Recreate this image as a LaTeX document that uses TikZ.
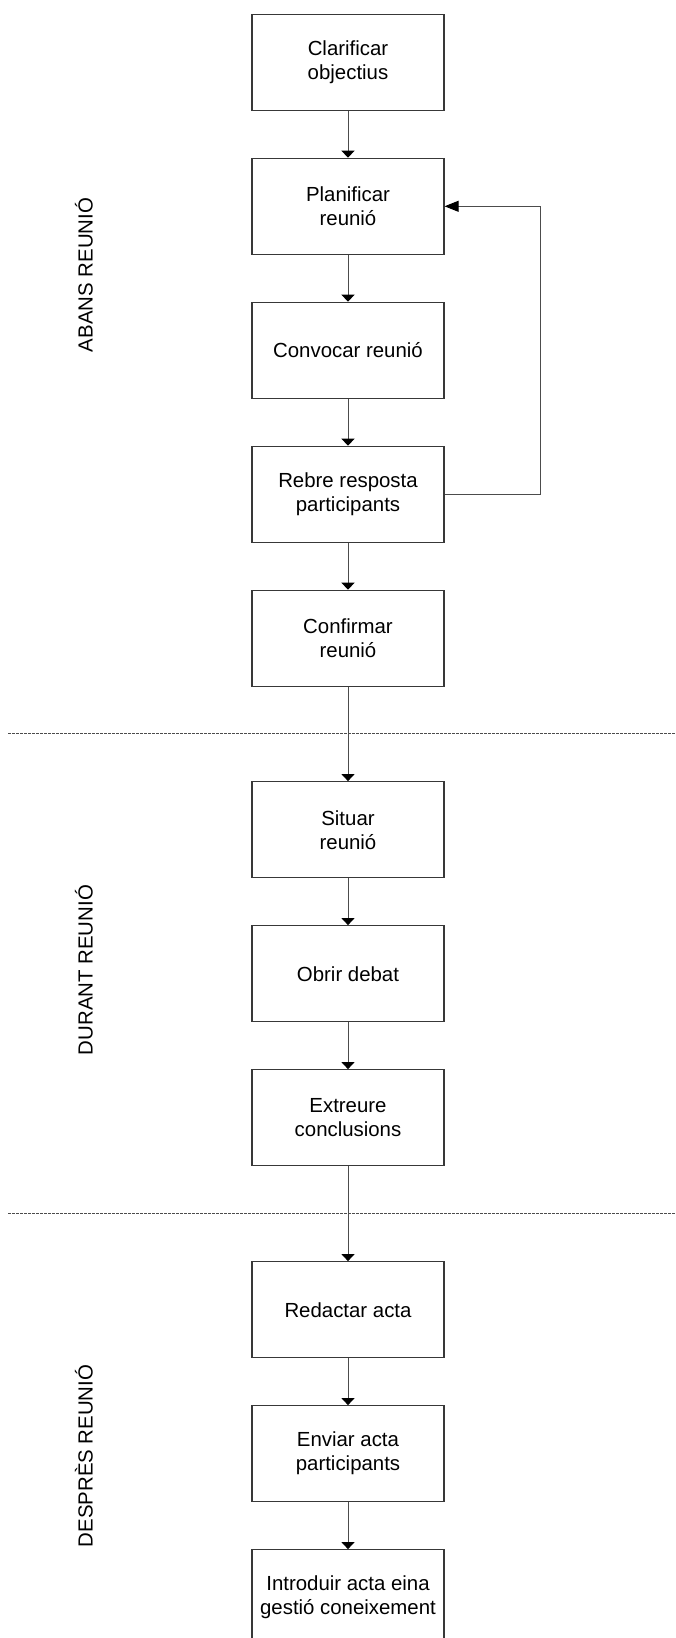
\documentclass[tikz,border=0pt]{standalone}
\usepackage{fontspec}
\setmainfont{Liberation Sans}
\usetikzlibrary{arrows.meta}

\begin{document}
\begin{tikzpicture}[x=1pt,y=-1pt,
  stepbox/.style={draw=black!78, line width=1.2pt, rectangle,
    minimum width=192pt, minimum height=96pt, inner sep=0pt,
    align=center, font=\fontsize{20.4}{24}\selectfont},
  flow/.style={draw=black!70, line width=1pt,
    -{Triangle[length=7pt,width=13pt,color=black,fill=black]}},
  backflow/.style={draw=black!70, line width=1pt,
    -{Triangle[length=14pt,width=11pt,color=black,fill=black]}},
  phase/.style={draw=black!70, line width=1pt, dash pattern=on 2.5pt off 1.5pt},
  phaselabel/.style={rotate=90, font=\fontsize{20.4}{24}\selectfont}]

\useasboundingbox (0,0) rectangle (676,1638);
\clip (0,0) rectangle (676,1638);

% process steps
\node[stepbox] (s1)  at (348,62.3)   {Clarificar\\objectius};
\node[stepbox] (s2)  at (348,206.3)  {Planificar\\reunió};
\node[stepbox] (s3)  at (348,350.3)  {Convocar reunió};
\node[stepbox] (s4)  at (348,494.3)  {Rebre resposta\\participants};
\node[stepbox] (s5)  at (348,638.3)  {Confirmar\\reunió};
\node[stepbox] (s6)  at (348,829.7)  {Situar\\reunió};
\node[stepbox] (s7)  at (348,973.7)  {Obrir debat};
\node[stepbox] (s8)  at (348,1117.7) {Extreure\\conclusions};
\node[stepbox] (s9)  at (348,1309.7) {Redactar acta};
\node[stepbox] (s10) at (348,1453.7) {Enviar acta\\participants};
\node[stepbox] (s11) at (348,1597.7) {Introduir acta eina\\gestió coneixement};

% phase separators
\coordinate (p1l) at (8,733.3);
\coordinate (p1r) at (676,733.3);
\coordinate (p2l) at (8,1213.3);
\coordinate (p2r) at (676,1213.3);
\draw[phase] (p1l) -- (p1r);
\draw[phase] (p2l) -- (p2r);

% phase labels
\node[phaselabel] (l1) at (84,275)  {ABANS REUNIÓ};
\node[phaselabel] (l2) at (84,970)  {DURANT REUNIÓ};
\node[phaselabel] (l3) at (84,1456) {DESPRÈS REUNIÓ};

% sequence
\draw[flow] (s1) -- (s2);
\draw[flow] (s2) -- (s3);
\draw[flow] (s3) -- (s4);
\draw[flow] (s4) -- (s5);
\draw[flow] (s5) -- (s6);
\draw[flow] (s6) -- (s7);
\draw[flow] (s7) -- (s8);
\draw[flow] (s8) -- (s9);
\draw[flow] (s9) -- (s10);
\draw[flow] (s10) -- (s11);

% replanning loop
\draw[backflow] (s4.east) -- ++(96,0) |- (s2.east);

\end{tikzpicture}
\end{document}
